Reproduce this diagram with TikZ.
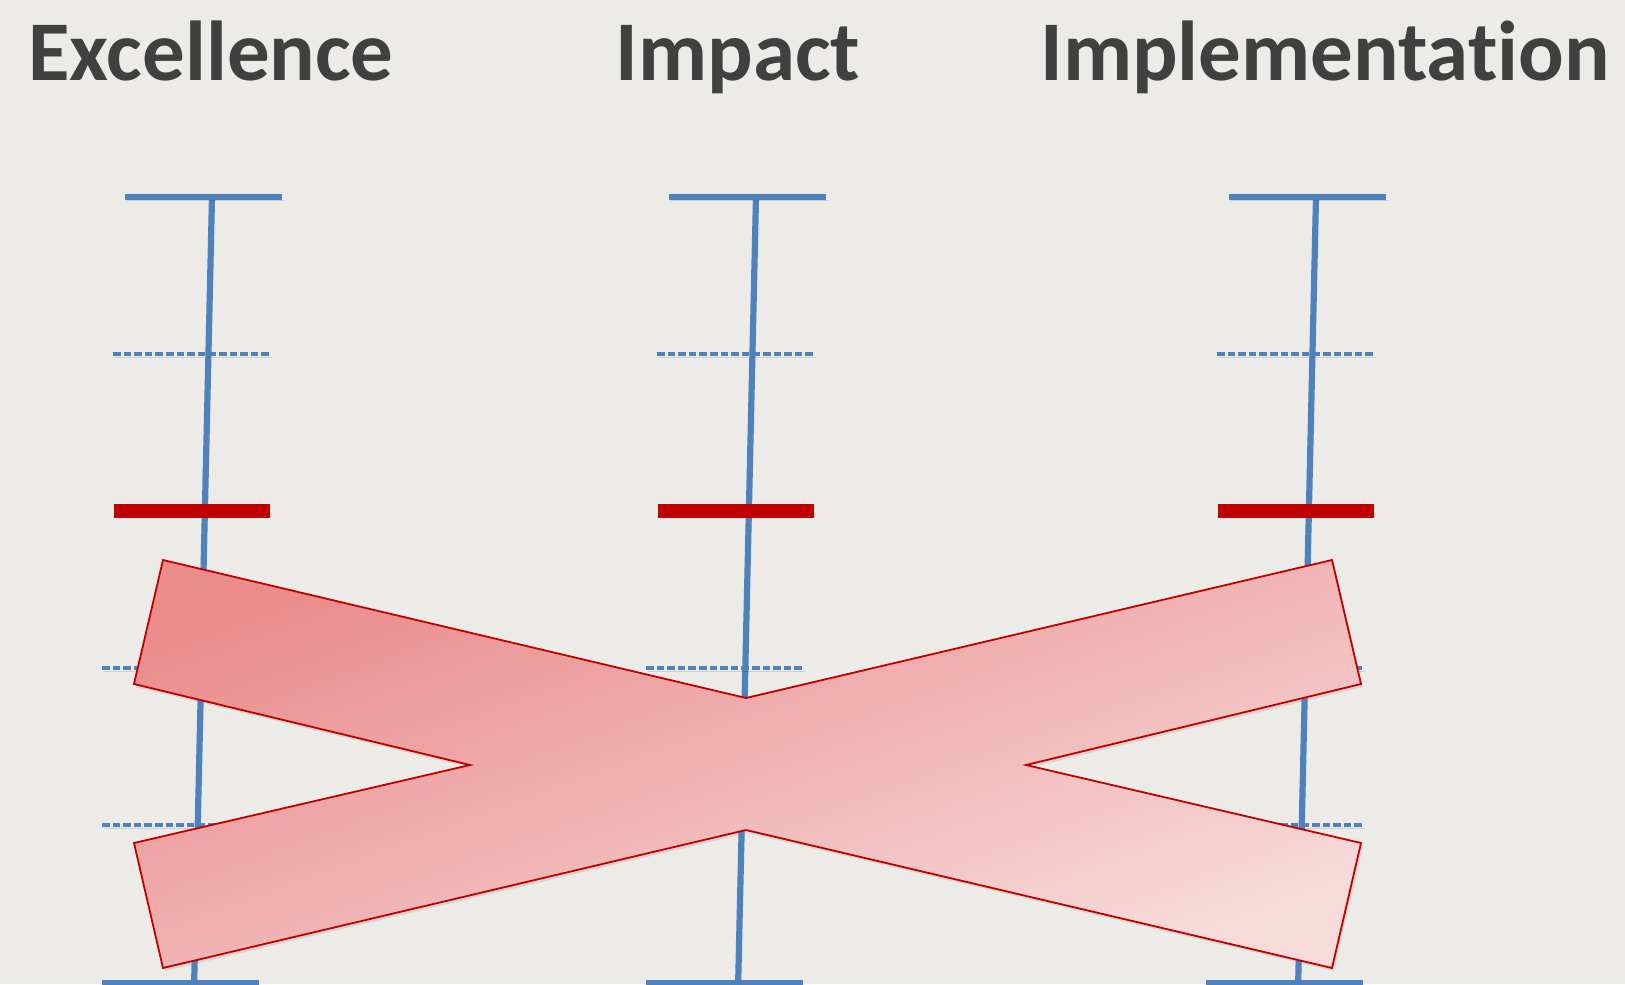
\documentclass[tikz,border=0pt]{standalone}
\usepackage{fontspec}
\setmainfont{Carlito}[Ligatures=NoCommon]
\usetikzlibrary{shadows}

\definecolor{paper}{RGB}{236,235,231}
\definecolor{axisblue}{RGB}{79,129,189}
\definecolor{markred}{RGB}{192,0,0}
\definecolor{titlegray}{RGB}{64,64,64}
\definecolor{crossdark}{RGB}{234,140,140}
\definecolor{crosslight}{RGB}{247,218,218}

\begin{document}
\begin{tikzpicture}[x=0.5pt, y=-0.5pt,
    title/.style={font=\bfseries\fontsize{42.5}{48}\selectfont, text=titlegray, anchor=base, inner sep=0pt},
    soft/.style={preaction={draw=black, opacity=0.12, transform canvas={shift={(1.5,3)}}}},
    endbar/.style={soft, axisblue, line width=3.2pt},
    stem/.style={soft, axisblue, line width=3.1pt},
    tick/.style={soft, axisblue, line width=1.6pt, dash pattern=on 3.8pt off 1.5pt},
    level/.style={soft, markred, line width=6.6pt},
    cross/.style={draw=markred, line width=0.9pt, top color=crossdark, bottom color=crosslight, shading angle=20,
        drop shadow={opacity=0.2, shadow xshift=1pt, shadow yshift=-1.5pt}}
]

\fill[paper] (0,0) rectangle (1625,984);
\useasboundingbox (0,0) rectangle (1625,984);

% criteria
\node[title] (excellence) at (211,81) {Excellence};
\node[title] (impact) at (738,81) {Impact};
\node[title] (implementation) at (1325,81) {Implementation};

% scales, one per criterion
\foreach \s in {212,756,1316} {
  \draw[stem] (\s,197) -- (\s-18,990);
  \draw[endbar] (\s-87,197) -- (\s+70,197);
  \draw[tick] (\s-99,354) -- (\s+58,354);
  \draw[level] (\s-98,511) -- (\s+58,511);
  \draw[tick] (\s-110,668) -- (\s+47,668);
  \draw[tick] (\s-110,825) -- (\s+47,825);
  \draw[endbar] (\s-110,983) -- (\s+47,983);
}

% crossed out
\draw[cross] (163,560) -- (746,698) -- (1332,560) -- (1361,684) -- (1026,765) -- (1361,843)
  -- (1332,968) -- (746,830) -- (163,968) -- (134,843) -- (470,765) -- (134,684) -- cycle;

\end{tikzpicture}
\end{document}
